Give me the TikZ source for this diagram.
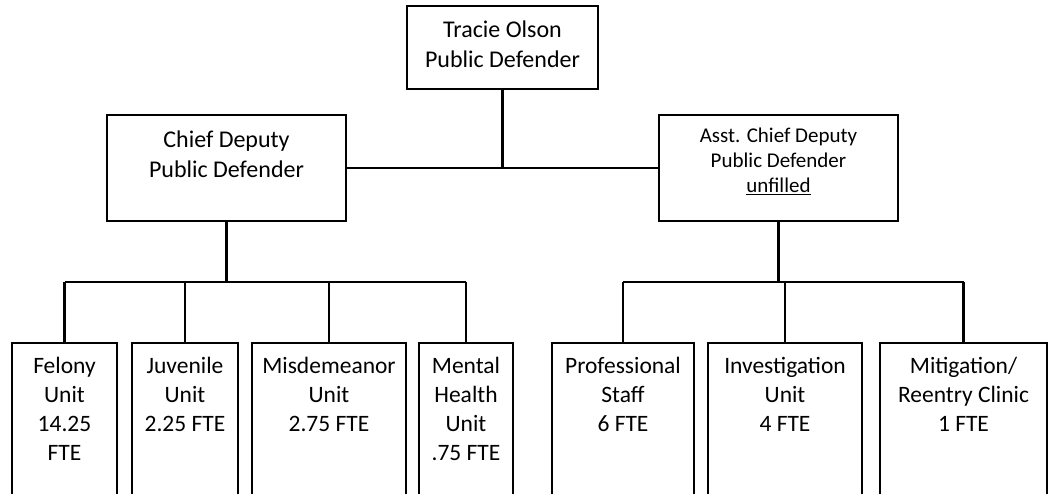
\documentclass[tikz,border=0pt]{standalone}
\usepackage{fontspec}
\setmainfont{Carlito}
\begin{document}
\begin{tikzpicture}[x=1pt,y=-1pt,
  box/.style={draw=black, line width=2.7pt, fill=white, inner sep=0pt, minimum height=#1},
  box/.default=106pt,
  lbl/.style={anchor=base, align=center, inner sep=0pt},
  big/.style={lbl, font=\fontsize{24}{30}\selectfont},
  mid/.style={lbl, font=\fontsize{21}{25}\selectfont},
  small/.style={lbl, font=\fontsize{23.5}{29}\selectfont},
  wire/.style={line width=2.7pt}]
  \useasboundingbox (0,0) rectangle (1052,494);

  % director and deputies
  \node[box=83pt, minimum width=191pt] (pd) at (502.5,47.5) {};
  \node[box, minimum width=239pt] (cd) at (226.5,168) {};
  \node[box, minimum width=239pt] (acd) at (778.5,168) {};

  % labels are anchored on the baseline of their last line
  \node[big] (pdt) at ([yshift=-63pt]pd.north) {Tracie Olson\\Public Defender};
  \node[big] (cdt) at ([yshift=-64pt]cd.north) {Chief Deputy\\Public Defender};
  \node[mid] (acdt) at ([yshift=-79pt]acd.north) {Asst. Chief Deputy\\Public Defender\\\underline{unfilled}};

  % units
  \node[box=177pt, minimum width=105pt] (fel) at (64.5,431.5) {};
  \node[box=177pt, minimum width=106pt] (juv) at (185,431.5) {};
  \node[box=177pt, minimum width=154pt] (mis) at (329,431.5) {};
  \node[box=177pt, minimum width=94pt]  (men) at (466,431.5) {};
  \node[box=177pt, minimum width=142pt] (pro) at (623,431.5) {};
  \node[box=177pt, minimum width=154pt] (inv) at (785,431.5) {};
  \node[box=177pt, minimum width=167pt] (mit) at (963.5,431.5) {};

  \node[small] (felt) at ([yshift=-119pt]fel.north) {Felony\\Unit\\14.25\\FTE};
  \node[small] (juvt) at ([yshift=-90pt]juv.north) {Juvenile\\Unit\\2.25 FTE};
  \node[small] (mist) at ([yshift=-90pt]mis.north) {Misdemeanor\\Unit\\2.75 FTE};
  \node[small] (ment) at ([yshift=-119pt]men.north) {Mental\\Health\\Unit\\.75 FTE};
  \node[small] (prot) at ([yshift=-90pt]pro.north) {Professional\\Staff\\6 FTE};
  \node[small] (invt) at ([yshift=-90pt]inv.north) {Investigation\\Unit\\4 FTE};
  \node[small] (mitt) at ([yshift=-90pt]mit.north) {Mitigation/\\Reentry Clinic\\1 FTE};

  % connectors
  \coordinate (top) at (pd.south |- cd.east);
  \draw[wire] (pd.south) -- (top);
  \draw[wire] (cd.east) -- (acd.west);

  \coordinate (lbar) at (226.5,282);
  \coordinate (rbar) at (778.5,282);
  \draw[wire] (cd.south) -- (lbar);
  \draw[wire] (acd.south) -- (rbar);
  \draw[wire] (fel.north |- lbar) -- (men.north |- lbar);
  \draw[wire] (pro.north |- rbar) -- (mit.north |- rbar);
  \foreach \u/\b in {fel/lbar, juv/lbar, mis/lbar, men/lbar, pro/rbar, inv/rbar, mit/rbar}
    \draw[wire] (\u.north) -- (\u.north |- \b);
\end{tikzpicture}
\end{document}
